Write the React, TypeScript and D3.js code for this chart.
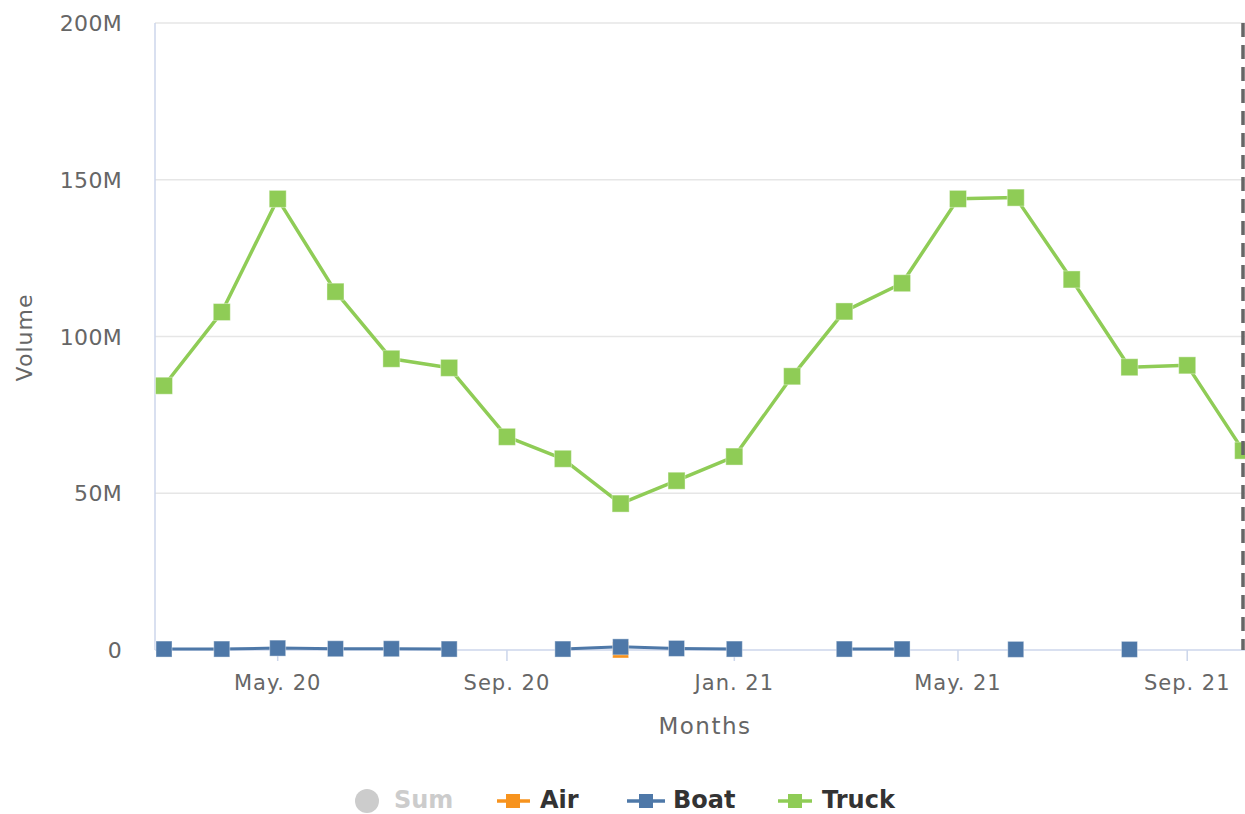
import React from 'react';
import * as d3 from 'd3';

// monthly values, Mar 2020 .. Oct 2021 (null = no data)
const months: string[] = [
  '2020-03', '2020-04', '2020-05', '2020-06', '2020-07', '2020-08', '2020-09', '2020-10', '2020-11', '2020-12',
  '2021-01', '2021-02', '2021-03', '2021-04', '2021-05', '2021-06', '2021-07', '2021-08', '2021-09', '2021-10',
];
const truck: (number | null)[] = [
  84.3, 107.8, 143.9, 114.3, 92.9, 90.0, 68.0, 61.0, 46.7, 54.0,
  61.7, 87.3, 108.0, 117.0, 143.9, 144.3, 118.2, 90.2, 90.8, 63.6,
];
const boat: (number | null)[] = [
  0.3, 0.3, 0.6, 0.4, 0.4, 0.3, null, 0.3, 1.0, 0.5,
  0.3, null, 0.3, 0.3, null, 0.2, null, 0.2, null, null,
];
const air: (number | null)[] = [
  null, null, null, null, null, null, null, null, 0.0, null,
  null, null, null, null, null, null, null, null, null, null,
];
const yTicks = [0, 50, 100, 150, 200];

const W = 1245;
const H = 814;
const plot = { left: 155, top: 23, right: 1245, bottom: 650 };
const font = '"DejaVu Sans", sans-serif';

const dates = months.map(m => d3.timeParse('%Y-%m')(m) as Date);

const x = d3.scaleTime()
  .domain([new Date(2020, 1, 25, 4), new Date(2021, 9, 2)])
  .range([plot.left, plot.right]);
const y = d3.scaleLinear().domain([0, 200]).range([plot.bottom, plot.top]);

const xTicks = d3.timeMonth.every(4)!.range(new Date(2020, 0, 1), new Date(2021, 9, 2))
  .filter(d => x(d) >= plot.left && x(d) <= plot.right);
const fmt = d3.timeFormat('%b. %y');

const line = d3.line<[Date, number | null]>()
  .defined(d => d[1] !== null)
  .x(d => x(d[0]))
  .y(d => y(d[1] as number));

function Series({ values, color, size, width }: { values: (number | null)[]; color: string; size: number; width: number }) {
  const pts = dates.map((d, i) => [d, values[i]] as [Date, number | null]);
  return (
    <g>
      <path d={line(pts) ?? ''} fill="none" stroke={color} strokeWidth={width} strokeLinejoin="round" />
      {pts.filter(p => p[1] !== null).map((p, i) => (
        <rect key={i} x={x(p[0]) - size / 2} y={y(p[1] as number) - size / 2} width={size} height={size}
          fill={color} stroke="#ffffff" strokeOpacity={0.4} strokeWidth={1} />
      ))}
    </g>
  );
}

export default function App() {
  return (
    <svg width={W} height={H} style={{ position: 'absolute', left: 0, top: 0, background: '#fff' }}>
      {/* grid */}
      {yTicks.slice(1).map(t => (
        <line key={t} x1={plot.left} x2={plot.right} y1={y(t)} y2={y(t)} stroke="#e6e6e6" strokeWidth={1.5} />
      ))}
      {/* y axis */}
      <line x1={plot.left} x2={plot.left} y1={plot.top} y2={plot.bottom} stroke="#ccd6eb" strokeWidth={1.5} />
      {yTicks.map(t => (
        <text key={t} x={122} y={y(t) + 8} textAnchor="end" fontFamily={font} fontSize={22} letterSpacing={0.3} fill="#666666">
          {t === 0 ? '0' : `${t}M`}
        </text>
      ))}
      <text transform={`translate(32,${(plot.top + plot.bottom) / 2 + 1}) rotate(-90)`} textAnchor="middle"
        fontFamily={font} fontSize={22} letterSpacing={1} fill="#666666">Volume</text>
      {/* x axis */}
      <line x1={plot.left} x2={plot.right} y1={plot.bottom} y2={plot.bottom} stroke="#ccd6eb" strokeWidth={1.5} />
      {xTicks.map(d => (
        <g key={+d}>
          <line x1={x(d)} x2={x(d)} y1={plot.bottom} y2={plot.bottom + 11} stroke="#ccd6eb" strokeWidth={1.5} />
          <text x={x(d)} y={plot.bottom + 40} textAnchor="middle" fontFamily={font} fontSize={21} letterSpacing={1} fill="#666666">
            {fmt(d)}
          </text>
        </g>
      ))}
      <text x={705} y={734} textAnchor="middle" fontFamily={font} fontSize={23} letterSpacing={1.5} fill="#666666">Months</text>
      {/* series */}
      <Series values={air} color="#f7931e" size={16} width={3} />
      <Series values={boat} color="#4e78a8" size={16} width={3} />
      <Series values={truck} color="#8fcc56" size={17} width={3.5} />
      {/* plot line */}
      <line x1={1243} x2={1243} y1={plot.top} y2={plot.bottom} stroke="#666666" strokeWidth={3.5} strokeDasharray="14 8" />
      {/* legend */}
      <g fontFamily={font} fontSize={24} fontWeight="bold">
        <circle cx={367} cy={801} r={12} fill="#cccccc" />
        <text x={394} y={808} fill="#cccccc">Sum</text>
        <line x1={497} x2={530} y1={801} y2={801} stroke="#f7931e" strokeWidth={3.5} />
        <rect x={506} y={794} width={14} height={14} fill="#f7931e" />
        <text x={540} y={808} fill="#333333">Air</text>
        <line x1={627} x2={665} y1={801} y2={801} stroke="#4e78a8" strokeWidth={3.5} />
        <rect x={639} y={794} width={14} height={14} fill="#4e78a8" />
        <text x={673} y={808} fill="#333333">Boat</text>
        <line x1={778} x2={812} y1={801} y2={801} stroke="#8fcc56" strokeWidth={3.5} />
        <rect x={788} y={794} width={14} height={14} fill="#8fcc56" />
        <text x={822} y={808} fill="#333333">Truck</text>
      </g>
    </svg>
  );
}
